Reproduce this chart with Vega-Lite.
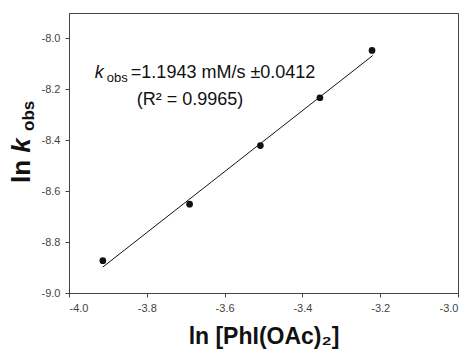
{
  "$schema": "https://vega.github.io/schema/vega-lite/v6.json",
  "width": 389,
  "height": 280,
  "autosize": "none",
  "padding": {"left": 69, "top": 13, "right": 10, "bottom": 59},
  "background": "white",
  "config": {
    "view": {"stroke": "#444", "strokeWidth": 1},
    "axis": {
      "grid": false,
      "domainColor": "#444",
      "tickColor": "#444",
      "tickSize": 4,
      "labelColor": "#444",
      "labelFont": "Liberation Sans",
      "labelFontSize": 11,
      "titleFont": "Liberation Sans",
      "titleColor": "#111"
    },
    "text": {"font": "Liberation Sans", "color": "#111"}
  },
  "layer": [
    {
      "data": {"values": [{"x": -3.913, "y": -8.898}, {"x": -3.219, "y": -8.067}]},
      "mark": {"type": "line", "color": "#111", "strokeWidth": 1},
      "encoding": {
        "x": {"field": "x", "type": "quantitative", "scale": {"domain": [-4, -3], "nice": false, "zero": false},
          "axis": {"values": [-4, -3.8, -3.6, -3.4, -3.2, -3], "labelExpr": "replace(format(datum.value, '.1f'), '\u2212', '-')", "title": "ln [PhI(OAc)\u2082]", "titleFontSize": 23, "titleFontWeight": "bold", "labelPadding": 5, "titlePadding": 12}},
        "y": {"field": "y", "type": "quantitative", "scale": {"domain": [-9, -7.9], "nice": false, "zero": false},
          "axis": {"values": [-9, -8.8, -8.6, -8.4, -8.2, -8], "labelExpr": "replace(format(datum.value, '.1f'), '\u2212', '-')", "title": null, "labelPadding": 5}}
      }
    },
    {
      "data": {"values": [
        {"x": -3.913, "y": -8.873},
        {"x": -3.690, "y": -8.651},
        {"x": -3.508, "y": -8.421},
        {"x": -3.355, "y": -8.233},
        {"x": -3.221, "y": -8.047}
      ]},
      "mark": {"type": "point", "filled": true, "color": "#111", "size": 45, "opacity": 1},
      "encoding": {
        "x": {"field": "x", "type": "quantitative"},
        "y": {"field": "y", "type": "quantitative"}
      }
    },
    {
      "data": {"values": [{"x": -3.934, "y": -8.156, "t": "k"}]},
      "mark": {"type": "text", "align": "left", "baseline": "alphabetic", "fontSize": 18, "fontStyle": "italic"},
      "encoding": {"x": {"field": "x", "type": "quantitative"}, "y": {"field": "y", "type": "quantitative"}, "text": {"field": "t"}}
    },
    {
      "data": {"values": [{"x": -3.903, "y": -8.171, "t": "obs"}]},
      "mark": {"type": "text", "align": "left", "baseline": "alphabetic", "fontSize": 13},
      "encoding": {"x": {"field": "x", "type": "quantitative"}, "y": {"field": "y", "type": "quantitative"}, "text": {"field": "t"}}
    },
    {
      "data": {"values": [
        {"x": -3.841, "y": -8.156, "t": "=1.1943 mM/s \u00b10.0412"},
        {"x": -3.826, "y": -8.262, "t": "(R\u00b2 = 0.9965)"}
      ]},
      "mark": {"type": "text", "align": "left", "baseline": "alphabetic", "fontSize": 18},
      "encoding": {"x": {"field": "x", "type": "quantitative"}, "y": {"field": "y", "type": "quantitative"}, "text": {"field": "t"}}
    },
    {
      "data": {"values": [{"x": -4.101, "y": -8.5675, "t": "ln"}]},
      "mark": {"type": "text", "align": "left", "baseline": "alphabetic", "fontSize": 26, "fontWeight": "bold", "angle": 270},
      "encoding": {"x": {"field": "x", "type": "quantitative"}, "y": {"field": "y", "type": "quantitative"}, "text": {"field": "t"}}
    },
    {
      "data": {"values": [{"x": -4.101, "y": -8.449, "t": "k"}]},
      "mark": {"type": "text", "align": "left", "baseline": "alphabetic", "fontSize": 26, "fontWeight": "bold", "fontStyle": "italic", "angle": 270},
      "encoding": {"x": {"field": "x", "type": "quantitative"}, "y": {"field": "y", "type": "quantitative"}, "text": {"field": "t"}}
    },
    {
      "data": {"values": [{"x": -4.0907, "y": -8.3635, "t": "obs"}]},
      "mark": {"type": "text", "align": "left", "baseline": "alphabetic", "fontSize": 17, "fontWeight": "bold", "angle": 270},
      "encoding": {"x": {"field": "x", "type": "quantitative"}, "y": {"field": "y", "type": "quantitative"}, "text": {"field": "t"}}
    }
  ]
}
